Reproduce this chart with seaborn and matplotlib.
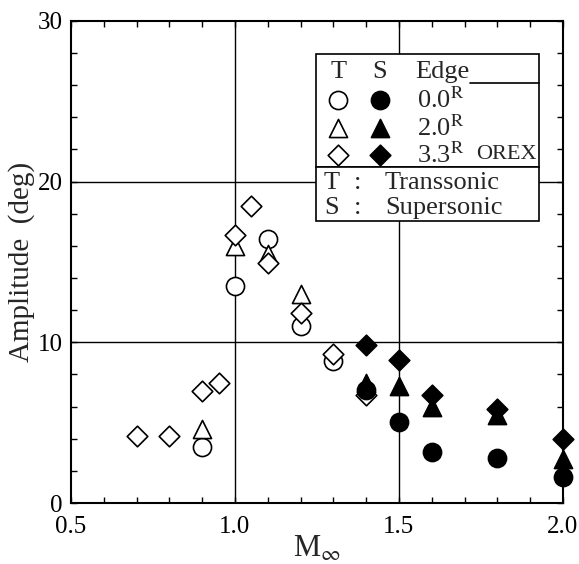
import matplotlib
matplotlib.use("Agg")
import matplotlib.pyplot as plt
import seaborn as sns
import pandas as pd
from matplotlib.patches import Rectangle
from matplotlib.ticker import MultipleLocator, FormatStrFormatter

sns.set_theme(style="ticks")
plt.rcParams['font.family'] = ['Liberation Serif', 'DejaVu Serif']
plt.rcParams['mathtext.fontset'] = 'stix'

# Transonic tests (open symbols)
t_circle_mach = [0.9, 1.0, 1.1, 1.2, 1.3]
t_circle_amp = [3.5, 13.5, 16.45, 11.0, 8.85]
t_tri_mach = [0.9, 1.0, 1.1, 1.2]
t_tri_amp = [4.6, 16.0, 15.5, 13.0]
t_dia_mach = [0.7, 0.8, 0.9, 0.95, 1.0, 1.05, 1.1, 1.2, 1.3, 1.4]
t_dia_amp = [4.2, 4.2, 7.0, 7.5, 16.65, 18.5, 14.95, 11.8, 9.3, 6.7]

# Supersonic tests (filled symbols)
s_circle_mach = [1.4, 1.5, 1.6, 1.8, 2.0]
s_circle_amp = [7.05, 5.05, 3.2, 2.8, 1.6]
s_tri_mach = [1.4, 1.5, 1.6, 1.8, 2.0]
s_tri_amp = [7.45, 7.3, 5.95, 5.5, 2.75]
s_dia_mach = [1.4, 1.5, 1.6, 1.8, 2.0]
s_dia_amp = [9.83, 8.9, 6.7, 5.85, 4.0]

edge_labels = ['0.0$^{\\mathrm{R}}$', '2.0$^{\\mathrm{R}}$', '3.3$^{\\mathrm{R}}$']
markers = ['o', '^', 'D']
sizes = [170, 170, 110]

fig = plt.figure(figsize=(5.79, 5.64), dpi=100)
ax = fig.add_axes([0.1226, 0.108, 0.8497, 0.855])

for xv in [1.0, 1.5]:
    ax.axvline(xv, color='black', lw=1.0, zorder=1)
for yv in [10, 20]:
    ax.axhline(yv, color='black', lw=1.0, zorder=1)

series = [
    (t_circle_mach, t_circle_amp, 0, 'white'),
    (t_tri_mach, t_tri_amp, 1, 'white'),
    (t_dia_mach, t_dia_amp, 2, 'white'),
    (s_circle_mach, s_circle_amp, 0, 'black'),
    (s_tri_mach, s_tri_amp, 1, 'black'),
    (s_dia_mach, s_dia_amp, 2, 'black'),
]
for mach, amp, k, fc in series:
    df = pd.DataFrame({'Mach': mach, 'Amp': amp})
    sns.scatterplot(data=df, x='Mach', y='Amp', ax=ax, marker=markers[k],
                    s=sizes[k], color=fc, edgecolor='black', linewidth=1.2,
                    clip_on=False, zorder=3, legend=False)

ax.set_xlim(0.5, 2.0)
ax.set_ylim(0, 30)
ax.xaxis.set_major_locator(MultipleLocator(0.5))
ax.xaxis.set_minor_locator(MultipleLocator(0.1))
ax.yaxis.set_major_locator(MultipleLocator(10))
ax.yaxis.set_minor_locator(MultipleLocator(2))
ax.xaxis.set_major_formatter(FormatStrFormatter('%.1f'))
ax.tick_params(which='both', direction='in', top=True, right=True,
               length=4, width=1, labelsize=18, colors='black')
ax.tick_params(axis='x', which='major', pad=9)
ax.tick_params(axis='y', which='major', pad=6)
for sp in ax.spines.values():
    sp.set_linewidth(1.5)
    sp.set_color('black')

ax.set_xlabel('M$_{\\infty}$', fontsize=22, labelpad=-2)
ax.set_ylabel('Amplitude  (deg)', fontsize=21, labelpad=2)

# legend boxes
ax.add_patch(Rectangle((0.498, 0.696), 0.453, 0.235, transform=ax.transAxes,
                       facecolor='white', edgecolor='black', lw=1.2, zorder=4))
ax.add_patch(Rectangle((0.498, 0.584), 0.453, 0.112, transform=ax.transAxes,
                       facecolor='white', edgecolor='black', lw=1.2, zorder=4))

tx = dict(transform=ax.transAxes, fontsize=19, zorder=5, va='center')
ax.text(0.543, 0.893, 'T', ha='center', **tx)
ax.text(0.628, 0.893, 'S', ha='center', **tx)
ax.text(0.699, 0.893, 'Edge', ha='left', **tx)
ax.plot([0.812, 0.951], [0.872, 0.872], transform=ax.transAxes,
        color='black', lw=1.2, zorder=5)
row_y = [0.835, 0.777, 0.722]
for k in range(3):
    ax.scatter([0.543], [row_y[k]], transform=ax.transAxes, marker=markers[k],
               s=sizes[k], facecolor='white', edgecolor='black', linewidth=1.2,
               zorder=5, clip_on=False)
    ax.scatter([0.628], [row_y[k]], transform=ax.transAxes, marker=markers[k],
               s=sizes[k], facecolor='black', edgecolor='black', linewidth=1.2,
               zorder=5, clip_on=False)
    ax.text(0.703, row_y[k], edge_labels[k], ha='left', **tx)
ax.text(0.823, row_y[2], 'OREX', ha='left', transform=ax.transAxes,
        fontsize=16, zorder=5, va='center')

ax.text(0.53, 0.664, 'T', ha='center', **tx)
ax.text(0.583, 0.664, ':', ha='center', **tx)
ax.text(0.638, 0.664, 'Transsonic', ha='left', **tx)
ax.text(0.53, 0.611, 'S', ha='center', **tx)
ax.text(0.583, 0.611, ':', ha='center', **tx)
ax.text(0.638, 0.611, 'Supersonic', ha='left', **tx)

fig.savefig('out.png', dpi=100, facecolor='white')
